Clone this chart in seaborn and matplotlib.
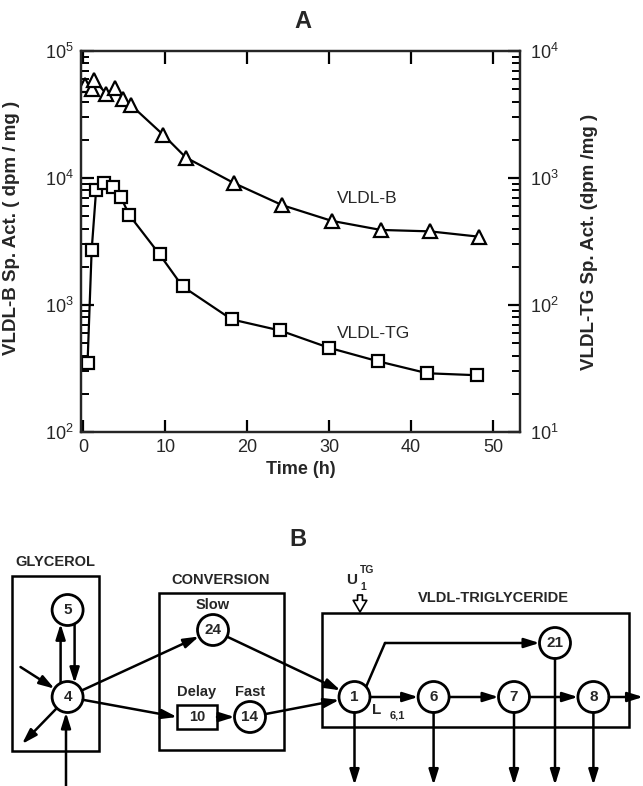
import numpy as np
import matplotlib
matplotlib.use("Agg")
import matplotlib.pyplot as plt
import seaborn as sns
import pandas as pd
from matplotlib.patches import Circle, Rectangle
from matplotlib.ticker import LogLocator, NullFormatter

# panel A, values
time_b = [0.2, 1.0, 1.3, 2.8, 3.9, 4.8, 5.8, 9.7, 12.5, 18.4, 24.3, 30.3, 36.3, 42.3, 48.3]
vldl_b = [5.4e4, 5.0e4, 5.9e4, 4.6e4, 5.1e4, 4.2e4, 3.75e4, 2.2e4, 1.45e4, 9.1e3, 6.1e3, 4.6e3, 3.9e3, 3.8e3, 3.45e3]
time_tg = [0.5, 1.0, 1.55, 2.55, 3.6, 4.55, 5.6, 9.3, 12.1, 18.1, 24.0, 30.0, 36.0, 42.0, 48.0]
vldl_tg = [35, 270, 810, 910, 850, 710, 510, 250, 140, 77, 63, 46, 36, 29, 28]  # right axis units
xticks = [0, 10, 20, 30, 40, 50]

sns.set_style("ticks")
plt.rcParams['font.family'] = ['Liberation Sans', 'DejaVu Sans']
plt.rcParams['axes.linewidth'] = 1.6

fig = plt.figure(figsize=(6.43, 7.86), dpi=100)
W, H = 643, 786
ax = fig.add_axes([81/W, 1-432/H, 439/W, 381/H])
axr = ax.twinx()

df_b = pd.DataFrame({'t': time_b, 'v': vldl_b})
df_tg = pd.DataFrame({'t': time_tg, 'v': vldl_tg})
sns.lineplot(data=df_b, x='t', y='v', ax=ax, color='black', lw=1.6, marker='^',
             markersize=10, markerfacecolor='white', markeredgecolor='black', markeredgewidth=1.6)
sns.lineplot(data=df_tg, x='t', y='v', ax=axr, color='black', lw=1.6, marker='s',
             markersize=8.5, markerfacecolor='white', markeredgecolor='black', markeredgewidth=1.6)

ax.set_yscale('log')
axr.set_yscale('log')
ax.set_ylim(1e2, 1e5)
axr.set_ylim(1e1, 1e4)
ax.set_xlim(-0.3, 53.3)
ax.set_xticks(xticks)
for a in (ax, axr):
    a.yaxis.set_minor_locator(LogLocator(base=10, subs=np.arange(2, 10), numticks=20))
    a.yaxis.set_minor_formatter(NullFormatter())
    for s in a.spines.values():
        s.set_visible(True)
        s.set_linewidth(1.6)
ax.tick_params(axis='x', which='major', direction='in', top=True, length=9, width=1.6,
               color='black', labelsize=13, pad=5)
ax.tick_params(axis='y', which='major', direction='in', length=9, width=1.6,
               color='black', labelsize=13, pad=5)
ax.tick_params(axis='y', which='minor', direction='in', length=5.5, width=1.4, color='black')
axr.tick_params(axis='y', which='major', direction='in', length=9, width=1.6,
                color='black', labelsize=13, pad=7)
axr.tick_params(axis='y', which='minor', direction='in', length=5.5, width=1.4, color='black')

ax.set_xlabel("Time (h)", fontsize=13, fontweight='bold')
ax.xaxis.set_label_coords(0.5, -0.075)
ax.set_ylabel("VLDL-B Sp. Act. ( dpm / mg )", fontsize=13.5, fontweight='bold')
ax.yaxis.set_label_coords(-0.14, 0.535)
axr.set_ylabel("VLDL-TG Sp. Act. (dpm /mg )", fontsize=13.5, fontweight='bold')
axr.yaxis.set_label_coords(1.14, 0.50)

ax.text(30.9, 6.9e3, "VLDL-B", fontsize=12.5, va='center', ha='left')
ax.text(30.9, 600, "VLDL-TG", fontsize=12.5, va='center', ha='left')
fig.text(303/W, 1-22/H, "A", fontsize=17, fontweight='bold', ha='center', va='center')

# panel B: compartment diagram, drawn in pixel coords of the lower part
axb = fig.add_axes([0, 0, 1, 306/H])
axb.set_xlim(0, W)
axb.set_ylim(H, 480)
axb.axis('off')

R = 15.5
nodes = {'5': (67.6, 610), '4': (67.6, 697), '24': (213, 630), '14': (250, 717),
         '1': (354.5, 697), '6': (433.6, 697), '7': (514, 697), '8': (593.4, 697),
         '21': (555, 643)}
LW = 1.8
tf = dict(fontweight='bold', ha='center', va='center')


def arrow(p, q):
    axb.annotate('', xy=q, xytext=p,
                 arrowprops=dict(arrowstyle='-|>,head_length=0.7,head_width=0.22', lw=LW,
                                 color='black', shrinkA=0, shrinkB=0, mutation_scale=13))


def edge(a, b, r=R):
    a = np.array(a, float); b = np.array(b, float)
    u = (b - a) / np.hypot(*(b - a))
    return a + r * u


def link(na, nb):
    a, b = nodes[na], nodes[nb]
    arrow(edge(a, b), edge(b, a))


# boxes
for (x0, y0, x1, y1) in [(11.5, 576, 98.5, 751), (159, 593, 284, 750), (321.7, 613, 629, 727)]:
    axb.add_patch(Rectangle((x0, y0), x1 - x0, y1 - y0, fill=False, lw=LW, ec='black'))
axb.add_patch(Rectangle((177, 705), 40, 24, fc='white', lw=LW, ec='black', zorder=3))
axb.text(197, 717, "10", fontsize=10.5, zorder=4, **tf)

axb.text(298, 540, "B", fontsize=17, **tf)
axb.text(55, 562, "GLYCEROL", fontsize=10.5, **tf)
axb.text(221, 580, "CONVERSION", fontsize=10.5, **tf)
axb.text(493, 598, "VLDL-TRIGLYCERIDE", fontsize=10.5, **tf)
axb.text(213, 605, "Slow", fontsize=10.5, **tf)
axb.text(197, 692, "Delay", fontsize=10.5, **tf)
axb.text(250, 692, "Fast", fontsize=10.5, **tf)
axb.text(352, 580, "U", fontsize=11, **tf)
axb.text(367, 570, "TG", fontsize=7.5, **tf)
axb.text(363, 587, "1", fontsize=7.5, **tf)
axb.text(377, 710, "L", fontsize=11, **tf)
axb.text(397, 716, "6,1", fontsize=8, **tf)
axb.annotate('', xy=(360, 612), xytext=(360, 595),
             arrowprops=dict(arrowstyle='simple,head_length=0.6,head_width=0.7,tail_width=0.25',
                             fc='white', ec='black', lw=1.2, shrinkA=0, shrinkB=0, mutation_scale=14))

for name, (x, y) in nodes.items():
    axb.add_patch(Circle((x, y), R, fc='white', ec='black', lw=2.0, zorder=3))
    axb.text(x, y, name, fontsize=11, zorder=4, **tf)

# glycerol loop
dy = np.sqrt(R**2 - 7**2)
arrow((60.6, 697 - dy), (60.6, 610 + dy))
arrow((74.6, 610 + dy), (74.6, 697 - dy))
arrow((20.5, 667), edge(nodes['4'], (20.5, 667)))
arrow(edge(nodes['4'], (22, 744)), (22, 744))
arrow((66, 786), (66, 697 + R))

# conversion paths
link('4', '24')
arrow(edge(nodes['4'], (177, 717)), (177, 717))
arrow((217, 717), edge(nodes['14'], (217, 717)))
link('24', '1')
link('14', '1')

# VLDL-TG chain
axb.plot([366, 385], [687, 643], color='black', lw=LW)
arrow((385, 643), (555 - R, 643))
link('1', '6')
link('6', '7')
link('7', '8')
arrow((593.4 + R, 697), (643, 697))
for name in ['1', '6', '7', '21', '8']:
    x, y = nodes[name]
    arrow((x, y + R), (x, 785))

fig.savefig("out.png", dpi=100)
